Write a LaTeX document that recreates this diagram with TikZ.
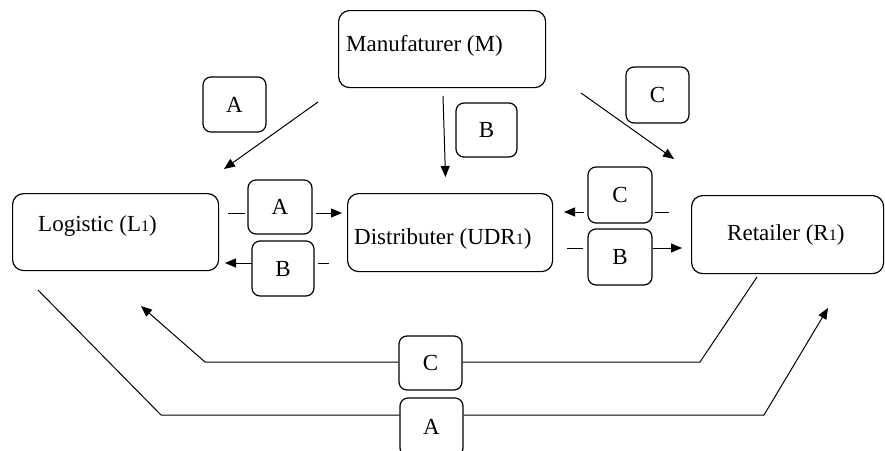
\documentclass[tikz,border=0pt]{standalone}
\usepackage{fontspec}
\setmainfont{Liberation Serif}
\usetikzlibrary{arrows.meta}
\newcommand\smallone{{\fontsize{16}{16}\selectfont 1}}
\begin{document}
\begin{tikzpicture}[x=1pt,y=-1pt,
  box/.style={draw, line width=1.2pt, rounded corners=11pt, anchor=north west, inner sep=0pt},
  lbl/.style={draw, line width=1.2pt, rounded corners=8pt, inner sep=0pt},
  txt/.style={anchor=base west, inner sep=0pt},
  arr/.style={line width=1pt, -{Triangle[length=11pt,width=9pt]}},
  ln/.style={line width=1pt},
  font=\fontsize{23}{27}\selectfont]
\useasboundingbox (0,0) rectangle (885,450);
% main boxes
\node[box, minimum width=207pt, minimum height=77pt] (M) at (338,10) {};
\node[box, minimum width=206pt, minimum height=77pt] (L) at (12,193) {};
\node[box, minimum width=205pt, minimum height=78pt] (D) at (347,193) {};
\node[box, minimum width=192pt, minimum height=78pt] (R) at (691,195) {};
\node[txt] (Mt) at (346,51) {Manufaturer (M)};
\node[txt] (Lt) at (38,231) {Logistic (L\smallone)};
\node[txt] (Dt) at (354,244) {Distributer (UDR\smallone)};
\node[txt] (Rt) at (727,240) {Retailer (R\smallone)};
% label boxes
\node[lbl, minimum width=63pt, minimum height=55pt] (tA) at (234.5,104.5) {A};
\node[lbl, minimum width=61pt, minimum height=54pt] (tB) at (486.5,130) {B};
\node[lbl, minimum width=63pt, minimum height=56pt] (tC) at (657.5,95) {C};
\node[lbl, minimum width=64pt, minimum height=54pt] (mA) at (280,207) {A};
\node[lbl, minimum width=62pt, minimum height=55pt] (mB) at (283,268.5) {B};
\node[lbl, minimum width=64pt, minimum height=56pt] (mC) at (620,195) {C};
\node[lbl, minimum width=64pt, minimum height=56pt] (nB) at (620,257) {B};
\node[lbl, minimum width=63pt, minimum height=54pt] (bC) at (430.5,363) {C};
\node[lbl, minimum width=63pt, minimum height=58pt] (bA) at (431.5,427) {A};
% arrows from manufacturer
\coordinate (m1) at (318,102); \coordinate (l1) at (224,169);
\coordinate (m2) at (443,96);  \coordinate (d1) at (445.5,177);
\coordinate (m3) at (581,93);  \coordinate (r1) at (674,159);
\draw[arr] (m1) -- (l1);
\draw[arr] (m2) -- (d1);
\draw[arr] (m3) -- (r1);
% middle left
\coordinate (a1) at (228,213); \coordinate (a2) at (245,213);
\coordinate (a3) at (316,213); \coordinate (a4) at (342,213);
\draw[ln] (a1) -- (a2);
\draw[arr] (a3) -- (a4);
\coordinate (b1) at (252,263); \coordinate (b2) at (225,263);
\coordinate (b3) at (318,263); \coordinate (b4) at (329,263);
\draw[arr] (b1) -- (b2);
\draw[ln] (b3) -- (b4);
% middle right
\coordinate (c1) at (584,212); \coordinate (c2) at (564,212);
\coordinate (c3) at (655,212); \coordinate (c4) at (669,212);
\draw[arr] (c1) -- (c2);
\draw[ln] (c3) -- (c4);
\coordinate (e1) at (567,248); \coordinate (e2) at (583,248);
\coordinate (e3) at (653,248); \coordinate (e4) at (682,248);
\draw[ln] (e1) -- (e2);
\draw[arr] (e3) -- (e4);
% bottom paths
\coordinate (p1) at (38,290); \coordinate (p2) at (161,415);
\coordinate (p3) at (764,415); \coordinate (p4) at (828,308);
\draw[ln] (p1) -- (p2) -- (bA.west |- p2);
\draw[arr] (bA.east |- p3) -- (p3) -- (p4);
\coordinate (q1) at (757,277); \coordinate (q2) at (700,362);
\coordinate (q3) at (205,362); \coordinate (q4) at (141,306);
\draw[ln] (q1) -- (q2) -- (bC.east |- q2);
\draw[arr] (bC.west |- q3) -- (q3) -- (q4);
\end{tikzpicture}
\end{document}
